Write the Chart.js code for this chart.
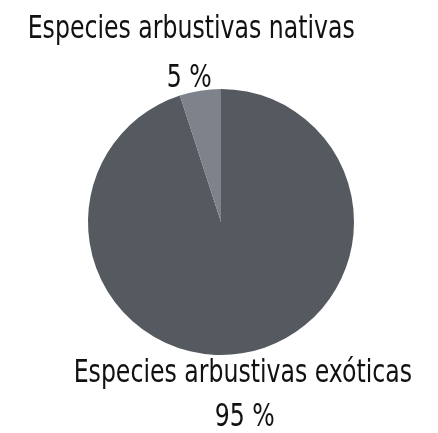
<!DOCTYPE html>
<html>
<head>
<meta charset="utf-8">
<script src="https://cdn.jsdelivr.net/npm/chart.js@4"></script>
<style>
  html, body { margin: 0; padding: 0; background: #fff; }
  #wrap { width: 438px; height: 433px; }
</style>
</head>
<body>
<div id="wrap"><canvas id="pie-chart"></canvas></div>
<script>
const categories = ['Especies arbustivas exóticas', 'Especies arbustivas nativas'];
const values = [95, 5];
const sliceColors = ['#555a61', '#7e838b'];

const labelFont = '32px "DejaVu Sans Condensed", sans-serif';
const squeeze = 0.82; // narrower glyphs for the labels

// Draws "name" and "value %" next to each slice, outside along its mid angle
const sliceLabels = {
  id: 'sliceLabels',
  afterDraw(chart) {
    const ctx = chart.ctx;
    const meta = chart.getDatasetMeta(0);
    const text = (s, x, y) => {
      ctx.save();
      ctx.scale(squeeze, 1);
      ctx.fillText(s, x / squeeze, y);
      ctx.restore();
    };
    ctx.save();
    ctx.font = labelFont;
    ctx.fillStyle = '#111';
    ctx.textAlign = 'center';
    ctx.textBaseline = 'alphabetic';
    meta.data.forEach((arc, i) => {
      const p = arc.getProps(['x', 'y', 'startAngle', 'endAngle', 'outerRadius'], true);
      const mid = (p.startAngle + p.endAngle) / 2;
      const ex = p.x + Math.cos(mid) * p.outerRadius;
      const ey = p.y + Math.sin(mid) * p.outerRadius;
      const name = categories[i];
      const pct = values[i] + ' %';
      if (ey < p.y) {
        text(pct, ex - 11, ey - 4);
        text(name, ex - 9, ey - 53);
      } else {
        text(name, ex + 1, ey + 29);
        text(pct, ex + 3, ey + 73);
      }
    });
    ctx.restore();
  }
};

new Chart(document.getElementById('pie-chart'), {
  type: 'pie',
  data: {
    labels: categories,
    datasets: [{
      data: values,
      backgroundColor: sliceColors,
      borderWidth: 0
    }]
  },
  options: {
    responsive: true,
    maintainAspectRatio: false,
    animation: false,
    layout: { padding: { left: 88, right: 84, top: 89, bottom: 78 } },
    plugins: {
      legend: { display: false },
      tooltip: { enabled: false }
    }
  },
  plugins: [sliceLabels]
});
</script>
</body>
</html>
